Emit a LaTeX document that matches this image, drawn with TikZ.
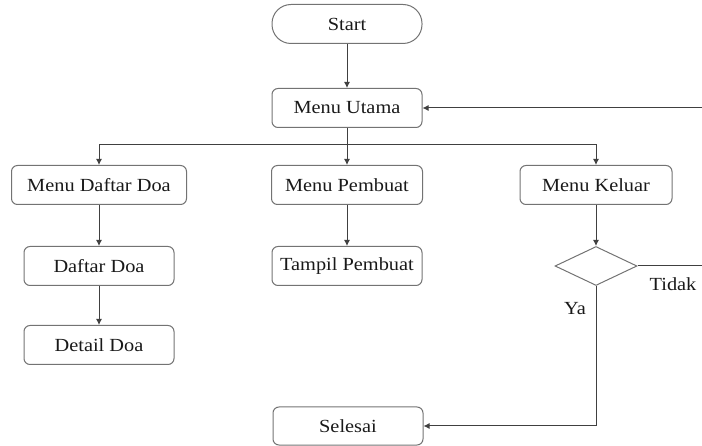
\documentclass[tikz,border=0pt]{standalone}
\usepackage{fontspec}
\setmainfont{Liberation Serif}[FakeStretch=1.1]
\usetikzlibrary{arrows.meta,shapes.geometric}

\begin{document}
\begin{tikzpicture}[x=1pt, y=-1pt,
	every node/.style={font=\fontsize{18.5}{20}\selectfont, text=black!90},
	box/.style={draw=black!55, line width=1pt, rounded corners=6pt, minimum width=150pt, minimum height=39pt, inner sep=0pt},
	termin/.style={box, rounded corners=19pt},
	cond/.style={diamond, draw=black!55, line width=1pt, minimum width=82pt, minimum height=39pt, inner sep=0pt},
	link/.style={draw=black!75, line width=1pt},
	arr/.style={link, -{Latex[length=6pt,width=6pt]}}]
	\useasboundingbox (0,0) rectangle (702,446);
	\node[termin] (start) at (347,24) {Start};
	\node[box] (utama) at (347,108) {Menu Utama};
	\foreach \x/\nm/\lab/\w in {99/mdoa/Menu Daftar Doa/175pt, 347/mbuat/Menu Pembuat/151pt, 596/mkeluar/Menu Keluar/152pt}
		\node[box, minimum width=\w] (\nm) at (\x,185) {\lab};
	\node[box] (ddoa) at (99,266) {Daftar Doa};
	\node[box] (tbuat) at (347,266) {Tampil Pembuat};
	\node[box] (detail) at (99,345) {Detail Doa};
	\node[cond] (keluarq) at (596,266) {};
	\node[box, minimum height=38pt] (selesai) at (348,426) {Selesai};
	\node (ya) at (575,309) {Ya};
	\node (tidak) at (673,284) {Tidak};
	\coordinate (back) at (702,108);
	\coordinate (split) at (347,145);
	\coordinate (no) at (702,266);
	% connectors
	\draw[arr] (start) -- (utama);
	\draw[arr] (back) -- (utama);
	\draw[link] (utama) -- (split);
	\foreach \n in {mdoa,mbuat,mkeluar}
		\draw[arr] (split) -| (\n);
	\draw[arr] (mdoa) -- (ddoa);
	\draw[arr] (ddoa) -- (detail);
	\draw[arr] (mbuat) -- (tbuat);
	\draw[arr] (mkeluar) -- (keluarq);
	\draw[link] (keluarq.east) -- (no);
	\draw[arr] (keluarq.south) |- (selesai);
\end{tikzpicture}
\end{document}
